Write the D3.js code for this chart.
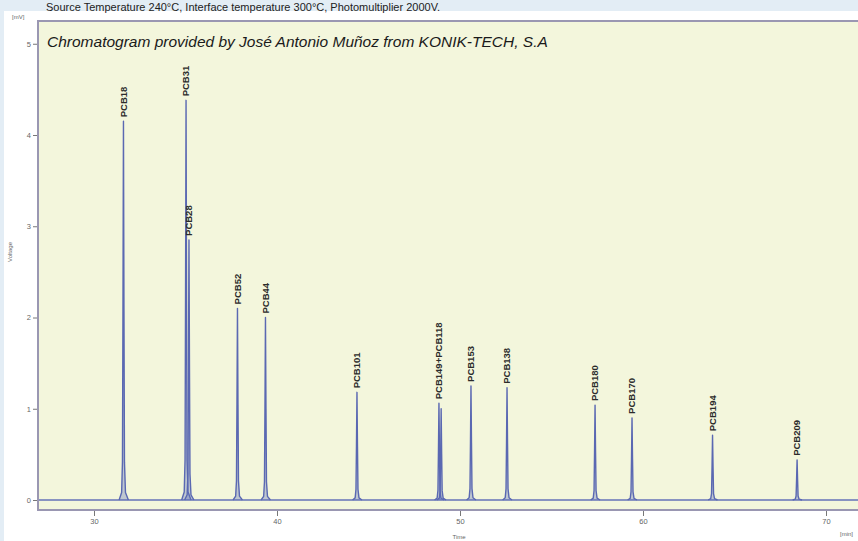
<!DOCTYPE html>
<html>
<head>
<meta charset="utf-8">
<script src="https://cdn.jsdelivr.net/npm/d3@7/dist/d3.min.js"></script>
<style>
  html, body { margin: 0; padding: 0; background: #e3edf5; }
  svg { display: block; }
</style>
</head>
<body>
<svg id="chart" width="858" height="541"></svg>
<script>
// ---- data ----
const xTicks = [30, 40, 50, 60, 70];
const yTicks = [0, 1, 2, 3, 4, 5];
const peakNames   = ["PCB18","PCB31","PCB28","PCB52","PCB44","PCB101","PCB149","PCB118","PCB153","PCB138","PCB180","PCB170","PCB194","PCB209"];
const peakTimes   = [31.61, 35.03, 35.19, 37.84, 39.37, 44.37, 48.85, 48.97, 50.60, 52.57, 57.38, 59.40, 63.80, 68.42];
const peakHeights = [4.15, 4.38, 2.85, 2.10, 2.00, 1.18, 1.06, 1.00, 1.25, 1.23, 1.04, 0.90, 0.71, 0.44];
const labelNames  = ["PCB18","PCB31","PCB28","PCB52","PCB44","PCB101","PCB149+PCB118","PCB153","PCB138","PCB180","PCB170","PCB194","PCB209"];
const labelPeaks  = ["PCB18","PCB31","PCB28","PCB52","PCB44","PCB101","PCB149","PCB153","PCB138","PCB180","PCB170","PCB194","PCB209"];
const topNote = "Source Temperature 240°C, Interface temperature 300°C, Photomultiplier 2000V.";
const credit = "Chromatogram provided by José Antonio Muñoz from KONIK-TECH, S.A";

// ---- layout ----
const svg = d3.select("#chart");
const W = 858, H = 541;
const plot = { left: 38, top: 21, right: 870, bottom: 510 };

const x = d3.scaleLinear().domain([30, 70]).range([94, 826]);
const y = d3.scaleLinear().domain([0, 4]).range([500, 135]);

// page panels
svg.append("rect").attr("x", 0).attr("y", 0).attr("width", W).attr("height", H).attr("fill", "#e3edf5");
svg.append("rect").attr("x", 4).attr("y", 11).attr("width", W - 4).attr("height", H - 11).attr("fill", "#ffffff");

svg.append("text").attr("x", 46).attr("y", 10.5)
  .attr("font-family", "Liberation Sans, Arial, sans-serif").attr("font-size", 11)
  .attr("fill", "#222").text(topNote);

// plot background and frame
svg.append("rect").attr("x", plot.left).attr("y", plot.top)
  .attr("width", plot.right - plot.left).attr("height", plot.bottom - plot.top)
  .attr("fill", "#f3f6dc").attr("stroke", "#9a97b2").attr("stroke-width", 2);

svg.append("clipPath").attr("id", "clip").append("rect")
  .attr("x", plot.left + 1).attr("y", plot.top + 1)
  .attr("width", plot.right - plot.left).attr("height", plot.bottom - plot.top - 2);

const g = svg.append("g").attr("clip-path", "url(#clip)");

// baseline of trace
const line = d3.line().x(d => x(d[0])).y(d => y(d[1]));
g.append("path")
  .attr("d", line([[x.invert(plot.left), 0], [x.invert(W + 10), 0]]))
  .attr("fill", "none").attr("stroke", "#6572b8").attr("stroke-width", 1.3);

// peak shape profile (style): [time offset in min, fraction of height]
const profile = [[-0.24,0],[-0.1,0.02],[-0.055,0.1],[-0.028,0.5],[0,1],[0.028,0.5],[0.055,0.1],[0.11,0.02],[0.27,0]];
const peakG = g.append("g");
peakNames.forEach((n, i) => {
  const pts = profile.map(p => [peakTimes[i] + p[0], peakHeights[i] * p[1]]);
  peakG.append("path")
    .attr("d", line(pts))
    .attr("fill", "#5e6fba").attr("fill-opacity", 0.35)
    .attr("stroke", "#5a68b2").attr("stroke-width", 1.4)
    .attr("stroke-linejoin", "round");
});

// peak labels
labelNames.forEach((lab, i) => {
  const k = peakNames.indexOf(labelPeaks[i]);
  const px = x(peakTimes[k]);
  const py = y(peakHeights[k]) - 4;
  svg.append("text")
    .attr("transform", `translate(${px},${py}) rotate(-90)`)
    .attr("dy", "0.35em")
    .attr("font-family", "Liberation Sans, Arial, sans-serif")
    .attr("font-size", 9.5).attr("font-weight", "bold")
    .attr("fill", "#2b2b2b")
    .text(lab);
});

// credit
svg.append("text").attr("x", 47).attr("y", 47)
  .attr("font-family", "Liberation Sans, Arial, sans-serif").attr("font-size", 15.5)
  .attr("font-style", "italic").attr("fill", "#1a1a1a").text(credit);

// y axis
const yAxis = d3.axisLeft(y).tickValues(yTicks).tickSize(4).tickPadding(2).tickFormat(d3.format("d"));
const ya = svg.append("g").attr("transform", `translate(${plot.left - 1},0)`).call(yAxis);
ya.select(".domain").remove();
ya.selectAll("line").attr("stroke", "#777");
ya.selectAll("text").attr("fill", "#666").attr("font-size", 7.5).attr("font-family", "Liberation Sans, Arial, sans-serif");

// x axis
const xAxis = d3.axisBottom(x).tickValues(xTicks).tickSize(5).tickPadding(3).tickFormat(d3.format("d"));
const xa = svg.append("g").attr("transform", `translate(0,${plot.bottom + 1})`).call(xAxis);
xa.select(".domain").remove();
xa.selectAll("line").attr("stroke", "#777");
xa.selectAll("text").attr("fill", "#666").attr("font-size", 7.5).attr("font-family", "Liberation Sans, Arial, sans-serif");

// axis titles
const small = sel => sel.attr("font-family", "Liberation Sans, Arial, sans-serif").attr("font-size", 6).attr("fill", "#666");
svg.append("text").attr("x", 12).attr("y", 19).text("[mV]").call(small);
svg.append("text").attr("transform", "translate(12,252) rotate(-90)").attr("text-anchor", "middle").text("Voltage").call(small);
svg.append("text").attr("x", 459).attr("y", 539).attr("text-anchor", "middle").text("Time").call(small);
svg.append("text").attr("x", 840).attr("y", 536).text("[min]").call(small);
</script>
</body>
</html>
